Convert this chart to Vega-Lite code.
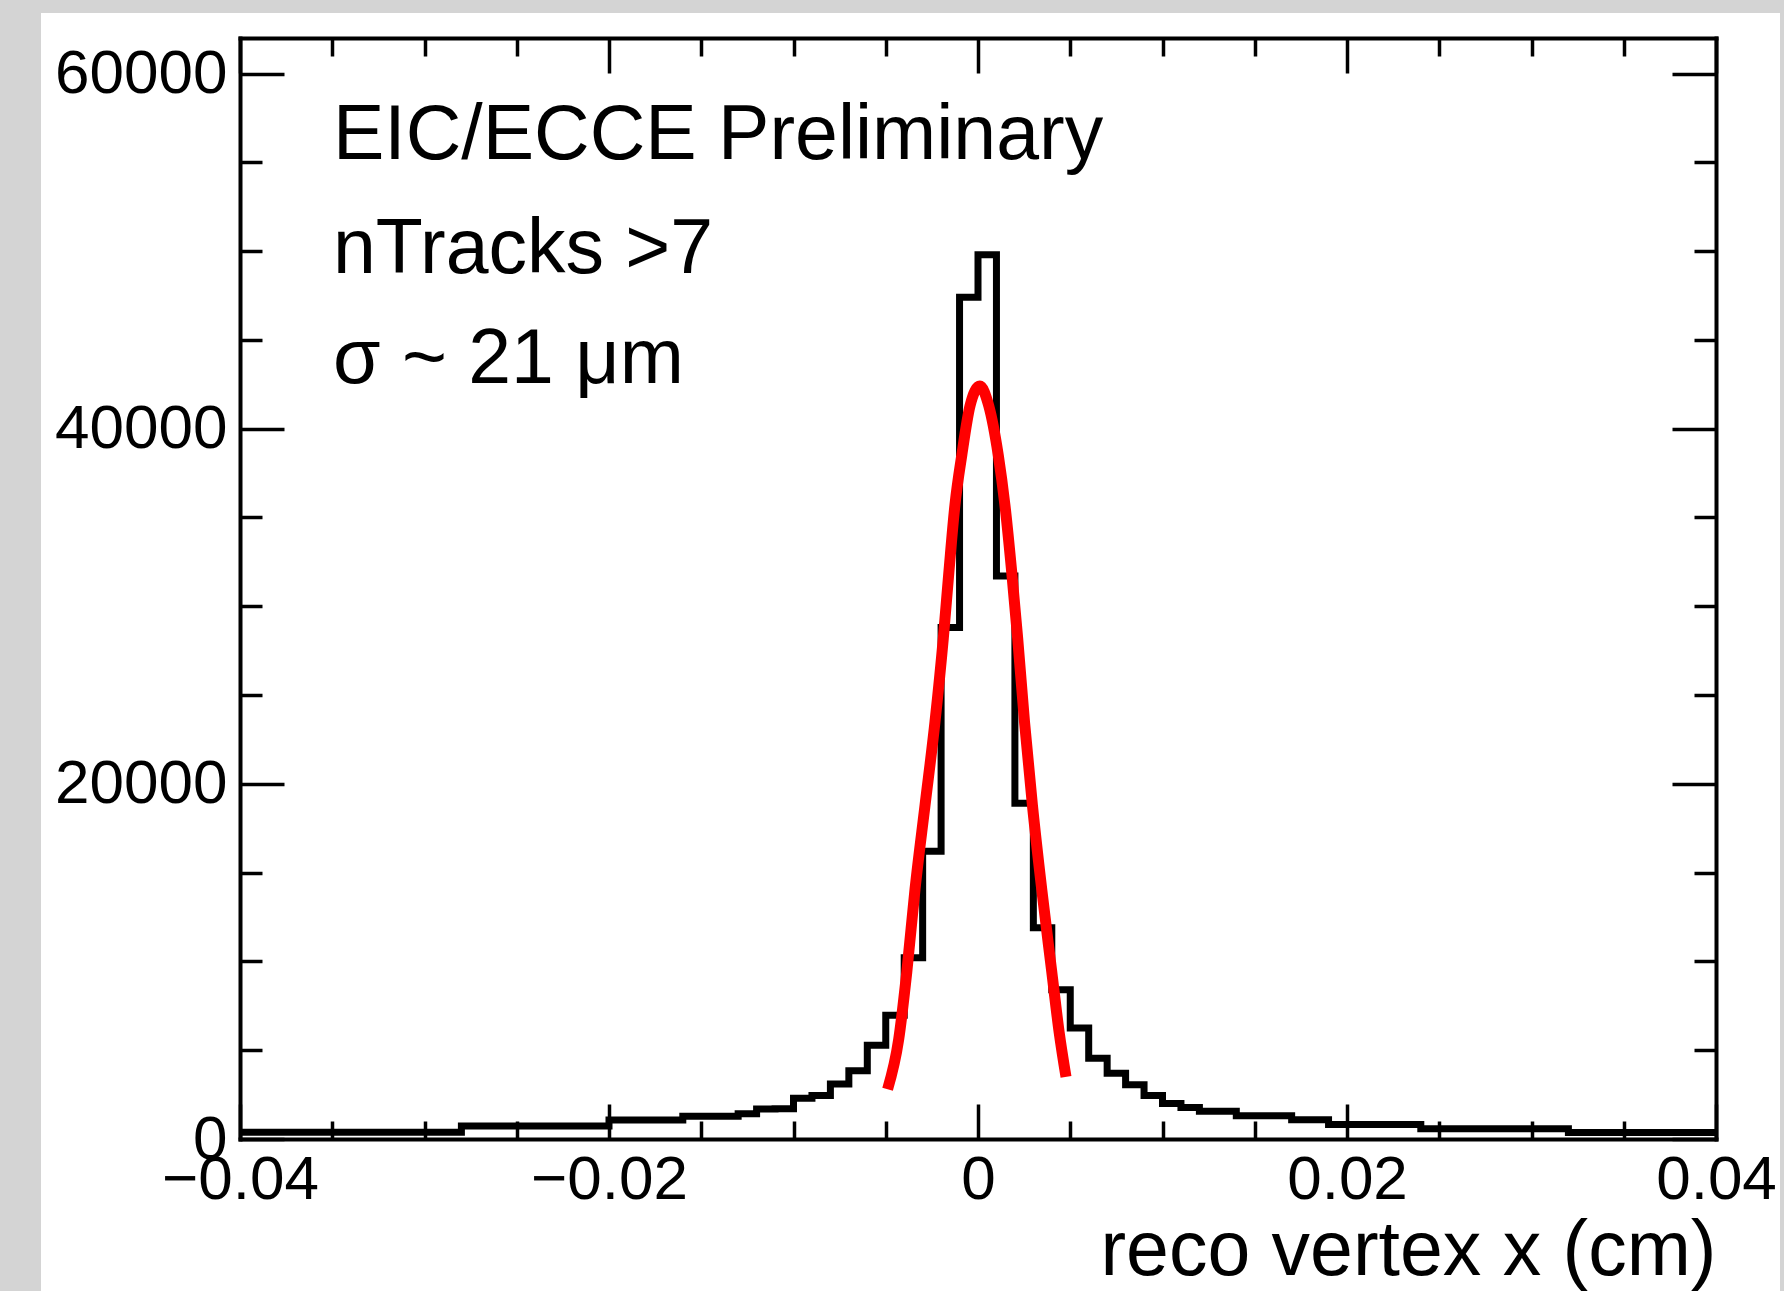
{
  "$schema": "https://vega.github.io/schema/vega-lite/v6.json",
  "width": 1476,
  "height": 1101,
  "autosize": {"type": "none"},
  "padding": {"left": 240, "top": 38, "right": 68, "bottom": 152},
  "background": "#d4d4d4",
  "config": {
    "view": {"stroke": null},
    "axis": {
      "grid": false,
      "domainColor": "#000000",
      "domainWidth": 4,
      "domainCap": "square",
      "tickColor": "#000000",
      "tickWidth": 3.5,
      "labelFont": "Liberation Sans",
      "labelFontSize": 62,
      "labelColor": "#000000",
      "titleFont": "Liberation Sans",
      "titleFontWeight": "normal",
      "titleColor": "#000000",
      "labelOverlap": false,
      "labelFlush": false,
      "labelBound": false
    }
  },
  "datasets": {
    "hist": [
      {"x": -0.040, "n": 380}, {"x": -0.039, "n": 380}, {"x": -0.038, "n": 380}, {"x": -0.037, "n": 380},
      {"x": -0.036, "n": 380}, {"x": -0.035, "n": 380}, {"x": -0.034, "n": 380}, {"x": -0.033, "n": 380},
      {"x": -0.032, "n": 380}, {"x": -0.031, "n": 380}, {"x": -0.030, "n": 380}, {"x": -0.029, "n": 380},
      {"x": -0.028, "n": 730}, {"x": -0.027, "n": 730}, {"x": -0.026, "n": 730}, {"x": -0.025, "n": 730},
      {"x": -0.024, "n": 730}, {"x": -0.023, "n": 730}, {"x": -0.022, "n": 730}, {"x": -0.021, "n": 730},
      {"x": -0.020, "n": 1070}, {"x": -0.019, "n": 1070}, {"x": -0.018, "n": 1070}, {"x": -0.017, "n": 1070},
      {"x": -0.016, "n": 1280}, {"x": -0.015, "n": 1280}, {"x": -0.014, "n": 1280}, {"x": -0.013, "n": 1420},
      {"x": -0.012, "n": 1690}, {"x": -0.011, "n": 1700}, {"x": -0.010, "n": 2300}, {"x": -0.009, "n": 2450},
      {"x": -0.008, "n": 3100}, {"x": -0.007, "n": 3850}, {"x": -0.006, "n": 5280}, {"x": -0.005, "n": 6970},
      {"x": -0.004, "n": 10200}, {"x": -0.003, "n": 16200}, {"x": -0.002, "n": 28800}, {"x": -0.001, "n": 47400},
      {"x": 0.000, "n": 49800}, {"x": 0.001, "n": 31700}, {"x": 0.002, "n": 18900}, {"x": 0.003, "n": 11900},
      {"x": 0.004, "n": 8400}, {"x": 0.005, "n": 6250}, {"x": 0.006, "n": 4550}, {"x": 0.007, "n": 3700},
      {"x": 0.008, "n": 3050}, {"x": 0.009, "n": 2450}, {"x": 0.010, "n": 2000}, {"x": 0.011, "n": 1780},
      {"x": 0.012, "n": 1560}, {"x": 0.013, "n": 1560}, {"x": 0.014, "n": 1315}, {"x": 0.015, "n": 1315},
      {"x": 0.016, "n": 1315}, {"x": 0.017, "n": 1090}, {"x": 0.018, "n": 1090}, {"x": 0.019, "n": 810},
      {"x": 0.020, "n": 810}, {"x": 0.021, "n": 810}, {"x": 0.022, "n": 810}, {"x": 0.023, "n": 810},
      {"x": 0.024, "n": 580}, {"x": 0.025, "n": 580}, {"x": 0.026, "n": 580}, {"x": 0.027, "n": 580},
      {"x": 0.028, "n": 580}, {"x": 0.029, "n": 580}, {"x": 0.030, "n": 580}, {"x": 0.031, "n": 580},
      {"x": 0.032, "n": 360}, {"x": 0.033, "n": 360}, {"x": 0.034, "n": 360}, {"x": 0.035, "n": 360},
      {"x": 0.036, "n": 360}, {"x": 0.037, "n": 360}, {"x": 0.038, "n": 360}, {"x": 0.039, "n": 360},
      {"x": 0.040, "n": 360}
    ],
    "fit": [
      {"x": -0.0049, "y": 2800}, {"x": -0.0043, "y": 5600}, {"x": -0.00386, "y": 9400},
      {"x": -0.00341, "y": 14100}, {"x": -0.00287, "y": 18800}, {"x": -0.00233, "y": 23500},
      {"x": -0.00188, "y": 28200}, {"x": -0.00158, "y": 31900}, {"x": -0.00125, "y": 35700},
      {"x": -0.00088, "y": 38500}, {"x": -0.00043, "y": 41300}, {"x": 0.0001, "y": 42400},
      {"x": 0.00058, "y": 41300}, {"x": 0.0011, "y": 38500}, {"x": 0.00146, "y": 35700},
      {"x": 0.00183, "y": 31900}, {"x": 0.00215, "y": 28200}, {"x": 0.00252, "y": 23500},
      {"x": 0.00295, "y": 18800}, {"x": 0.00345, "y": 14100}, {"x": 0.004, "y": 9400},
      {"x": 0.0044, "y": 6000}, {"x": 0.00477, "y": 3500}
    ]
  },
  "layer": [
    {
      "data": {"values": [{}]},
      "mark": {"type": "rect", "fill": "#ffffff", "strokeWidth": 0},
      "encoding": {
        "x": {"datum": -0.050786, "type": "quantitative", "scale": {"domain": [-0.04, 0.04], "nice": false, "zero": false}, "axis": null},
        "x2": {"datum": 0.043469},
        "y": {"datum": -9000, "type": "quantitative", "scale": {"domain": [0, 62000], "nice": false, "zero": false}, "axis": null},
        "y2": {"datum": 63408}
      }
    },
    {
      "data": {"name": "hist"},
      "mark": {"type": "line", "interpolate": "step-after", "color": "#000000", "strokeWidth": 7},
      "encoding": {
        "x": {
          "field": "x", "type": "quantitative",
          "scale": {"domain": [-0.04, 0.04], "nice": false, "zero": false},
          "axis": {
            "orient": "bottom",
            "zindex": 2,
            "values": [-0.04, -0.035, -0.03, -0.025, -0.02, -0.015, -0.01, -0.005, 0, 0.005, 0.01, 0.015, 0.02, 0.025, 0.03, 0.035, 0.04],
            "tickSize": {"condition": {"test": "abs(round(datum.value*1000)) % 20 == 0", "value": -35}, "value": -18},
            "labelExpr": "abs(round(datum.value*1000)) % 20 == 0 ? (datum.value == 0 ? '0' : format(datum.value, '.2f')) : ''",
            "labelBaseline": "top",
            "labelAlign": "center",
            "labelPadding": 45,
            "title": "reco vertex x (cm)",
            "titleFontSize": 77,
            "titleAlign": "right",
            "titleBaseline": "alphabetic",
            "titleAnchor": "end",
            "titleX": 1476,
            "titleY": 135
          }
        },
        "y": {
          "field": "n", "type": "quantitative",
          "scale": {"domain": [0, 62000], "nice": false, "zero": false},
          "axis": {
            "orient": "left",
            "zindex": 2,
            "values": [0, 5000, 10000, 15000, 20000, 25000, 30000, 35000, 40000, 45000, 50000, 55000, 60000],
            "tickSize": {"condition": {"test": "datum.value % 20000 == 0", "value": -44}, "value": -22},
            "labelExpr": "datum.value % 20000 == 0 ? format(datum.value, 'd') : ''",
            "labelAlign": "right",
            "labelBaseline": "middle",
            "labelPadding": 57,
            "title": null
          }
        }
      }
    },
    {
      "data": {"name": "fit"},
      "mark": {"type": "line", "interpolate": "monotone", "color": "#ff0000", "strokeWidth": 11},
      "encoding": {
        "x": {
          "field": "x", "type": "quantitative",
          "axis": {
            "orient": "top",
            "zindex": 2,
            "values": [-0.04, -0.035, -0.03, -0.025, -0.02, -0.015, -0.01, -0.005, 0, 0.005, 0.01, 0.015, 0.02, 0.025, 0.03, 0.035, 0.04],
            "tickSize": {"condition": {"test": "abs(round(datum.value*1000)) % 20 == 0", "value": -35}, "value": -18},
            "labels": false,
            "title": null
          }
        },
        "y": {
          "field": "y", "type": "quantitative",
          "axis": {
            "orient": "right",
            "zindex": 2,
            "values": [0, 5000, 10000, 15000, 20000, 25000, 30000, 35000, 40000, 45000, 50000, 55000, 60000],
            "tickSize": {"condition": {"test": "datum.value % 20000 == 0", "value": -44}, "value": -22},
            "labels": false,
            "title": null
          }
        }
      }
    },
    {
      "data": {"values": [{}]},
      "mark": {"type": "text", "font": "Liberation Sans", "fontSize": 77, "align": "left", "baseline": "alphabetic", "color": "#000000"},
      "encoding": {
        "x": {"datum": -0.03496, "type": "quantitative", "axis": null},
        "y": {"datum": 55184, "type": "quantitative", "axis": null},
        "text": {"value": "EIC/ECCE Preliminary"}
      }
    },
    {
      "data": {"values": [{}]},
      "mark": {"type": "text", "font": "Liberation Sans", "fontSize": 77, "align": "left", "baseline": "alphabetic", "color": "#000000"},
      "encoding": {
        "x": {"datum": -0.03496, "type": "quantitative", "axis": null},
        "y": {"datum": 48765, "type": "quantitative", "axis": null},
        "text": {"value": "nTracks >7"}
      }
    },
    {
      "data": {"values": [{}]},
      "mark": {"type": "text", "font": "Liberation Sans", "fontSize": 77, "align": "left", "baseline": "alphabetic", "color": "#000000"},
      "encoding": {
        "x": {"datum": -0.03496, "type": "quantitative", "axis": null},
        "y": {"datum": 42571, "type": "quantitative", "axis": null},
        "text": {"value": "σ ~ 21 μm"}
      }
    }
  ],
  "resolve": {"axis": {"x": "independent", "y": "independent"}}
}
